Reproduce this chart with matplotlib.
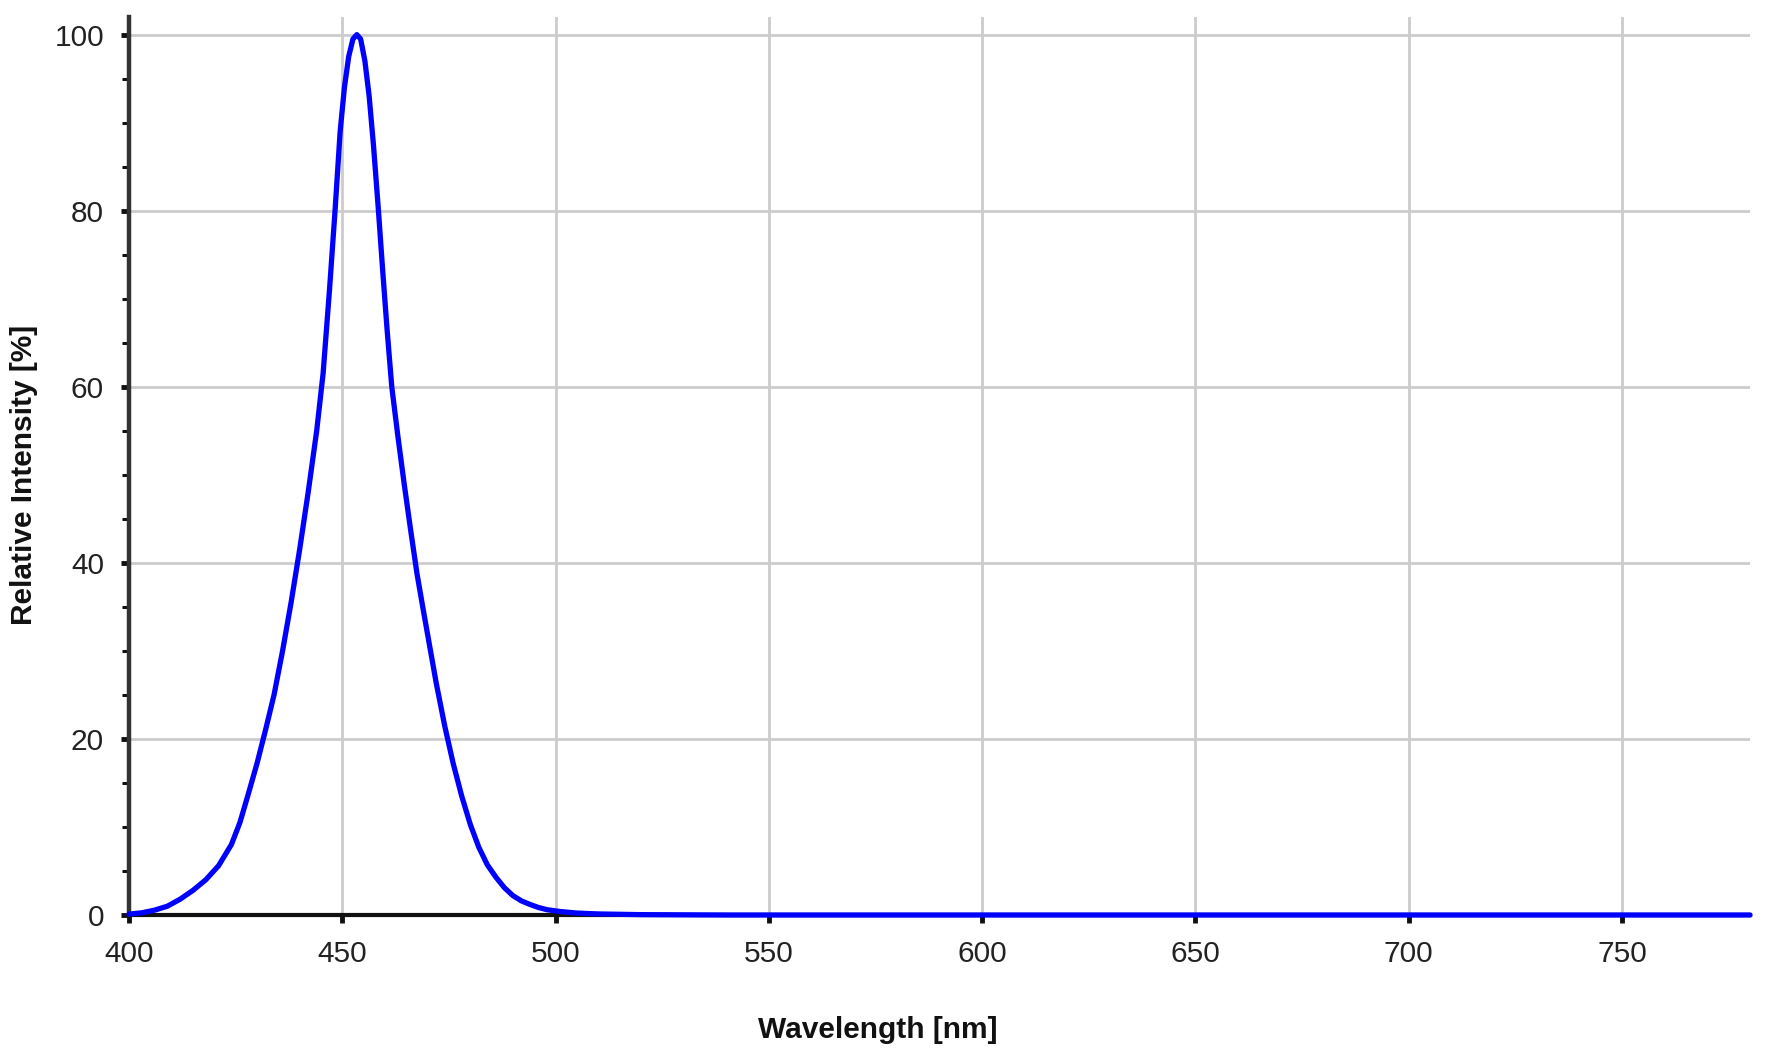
import numpy as np
import matplotlib
matplotlib.use("Agg")
import matplotlib.pyplot as plt
from matplotlib.ticker import MultipleLocator

# spectrum
wavelength = [400, 403, 406, 409, 412, 415, 418, 421, 424, 426, 428, 430, 432,
              434, 436, 438, 440, 442, 444, 445.5, 447, 448.3, 449.5, 450.5,
              451.5, 452.5, 453.4, 454.3, 455.3, 456.3, 457.3, 458.4, 459.5,
              460.5, 461.6, 463, 464.5, 466, 467.5, 469, 470.5, 472, 474, 476,
              478, 480, 482, 484, 486, 488, 490, 492, 494, 496, 498, 501, 505,
              510, 520, 540, 780]
intensity = [0.1, 0.25, 0.55, 1.0, 1.8, 2.8, 4.0, 5.6, 8.0, 10.5, 13.8, 17.2, 21.0,
             25.0, 30.0, 35.5, 41.5, 48.0, 55.0, 61.5, 71.0, 80.0, 89.0, 94.0,
             97.5, 99.5, 100.0, 99.5, 97.0, 93.0, 87.5, 80.5, 73.0,
             66.5, 60.0, 54.5, 49.0, 43.8, 38.8, 34.6, 30.5, 26.4, 21.5, 17.2,
             13.5, 10.3, 7.7, 5.7, 4.3, 3.1, 2.2, 1.6, 1.2, 0.85, 0.6, 0.4, 0.22,
             0.12, 0.04, 0.0, 0.0]

x_ticks = [400, 450, 500, 550, 600, 650, 700, 750]
y_ticks = [0, 20, 40, 60, 80, 100]

plt.rcParams['font.family'] = ['Liberation Sans', 'DejaVu Sans']

fig = plt.figure(figsize=(17.74, 10.64), dpi=100)
ax = fig.add_axes([129 / 1774, 1 - 915 / 1064, 1621 / 1774, 898 / 1064])

ax.plot(wavelength, intensity, color='#0000ff', lw=3.8, zorder=5,
        clip_on=False, solid_joinstyle='round', solid_capstyle='round')

ax.set_xlim(400, 780)
ax.set_ylim(0, 102)
ax.set_xticks(x_ticks)
ax.set_yticks(y_ticks)
ax.yaxis.set_minor_locator(MultipleLocator(5))

ax.grid(True, which='major', color='#cccccc', lw=2.0, zorder=0)
ax.set_axisbelow(True)

for side in ['top', 'right']:
    ax.spines[side].set_visible(False)
ax.spines['left'].set_color('#333333')
ax.spines['left'].set_linewidth(3.2)
ax.spines['left'].set_bounds(0, 102)
ax.spines['bottom'].set_color('#111111')
ax.spines['bottom'].set_linewidth(3.0)
ax.spines['left'].set_zorder(4)
ax.spines['bottom'].set_zorder(4)

ax.tick_params(axis='both', which='major', labelsize=21.5, colors='#111111',
               labelcolor='#222222', width=3.5, length=6, direction='out')
ax.tick_params(axis='y', which='minor', width=2.2, length=5, colors='#111111')
ax.tick_params(axis='x', which='major', pad=12)
ax.tick_params(axis='y', which='major', pad=12)

ax.set_xlabel('Wavelength [nm]', fontsize=21.5, fontweight='bold', color='#111111')
ax.set_ylabel('Relative Intensity [%]', fontsize=21.5, fontweight='bold', color='#111111')
ax.xaxis.set_label_coords(0.462, -0.1125)
ax.yaxis.set_label_coords(-0.056, 0.49)

fig.savefig('out.png', dpi=100, facecolor='white')
